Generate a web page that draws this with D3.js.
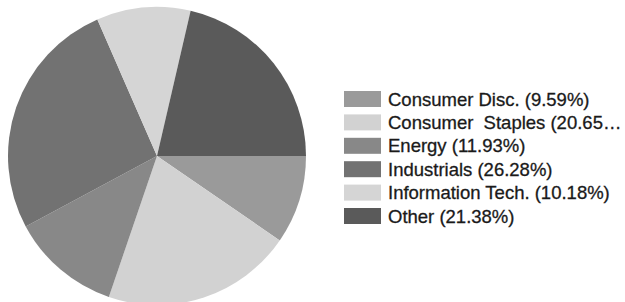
<!DOCTYPE html>
<html>
<head>
<meta charset="utf-8">
<script src="https://cdn.jsdelivr.net/npm/d3@7.9.0/dist/d3.min.js"></script>
<style>
  html, body { margin: 0; padding: 0; background: #fff; }
  svg { display: block; }
  .legend text { font-family: "Liberation Sans", Arial, sans-serif; white-space: pre; }
</style>
</head>
<body>
<svg id="chart" width="625" height="302"></svg>
<script>
// sector weights
const sectors = ["Consumer Disc.", "Consumer  Staples", "Energy", "Industrials", "Information Tech.", "Other"];
const shares = [9.59, 20.65, 11.93, 26.28, 10.18, 21.38];
const greys = ["#9a9a9a", "#d2d2d2", "#888888", "#727272", "#d5d5d5", "#5a5a5a"];

const data = sectors.map((name, i) => ({ name: name, value: shares[i] }));

const svg = d3.select("#chart");

const cx = 157, cy = 156, radius = 149;

// first slice starts at 3 o'clock and runs clockwise
const pie = d3.pie()
    .sort(null)
    .value(d => d.value)
    .startAngle(Math.PI / 2)
    .endAngle(Math.PI / 2 + 2 * Math.PI);

const arc = d3.arc().innerRadius(0).outerRadius(radius);

const color = d3.scaleOrdinal().domain(sectors).range(greys);

svg.append("g")
    .attr("transform", `translate(${cx},${cy})`)
    .selectAll("path")
    .data(pie(data))
    .join("path")
    .attr("d", arc)
    .attr("fill", d => color(d.data.name));

// legend
const legendX = 344, legendY = 91, rowH = 23.4;
const maxTextW = 625 - 388 - 2;

const rows = svg.append("g")
    .attr("class", "legend")
    .attr("transform", `translate(${legendX},${legendY})`)
    .selectAll("g")
    .data(data)
    .join("g")
    .attr("transform", (d, i) => `translate(0,${i * rowH})`);

rows.append("rect")
    .attr("width", 37)
    .attr("height", 16)
    .attr("fill", d => color(d.name));

rows.append("text")
    .attr("x", 44)
    .attr("y", 8)
    .attr("dy", "0.36em")
    .attr("font-size", "18.5px")
    .attr("fill", "#1a1a1a")
    .attr("stroke", "#1a1a1a")
    .attr("stroke-width", 0.3)
    .each(function(d) {
        const t = d3.select(this);
        let label = `${d.name} (${d.value.toFixed(2)}%)`;
        t.text(label);
        // cut long labels down and add an ellipsis
        while (this.getComputedTextLength() > maxTextW && label.length > 1) {
            label = label.slice(0, -1);
            t.text(label.trimEnd() + "…");
        }
    });
</script>
</body>
</html>
